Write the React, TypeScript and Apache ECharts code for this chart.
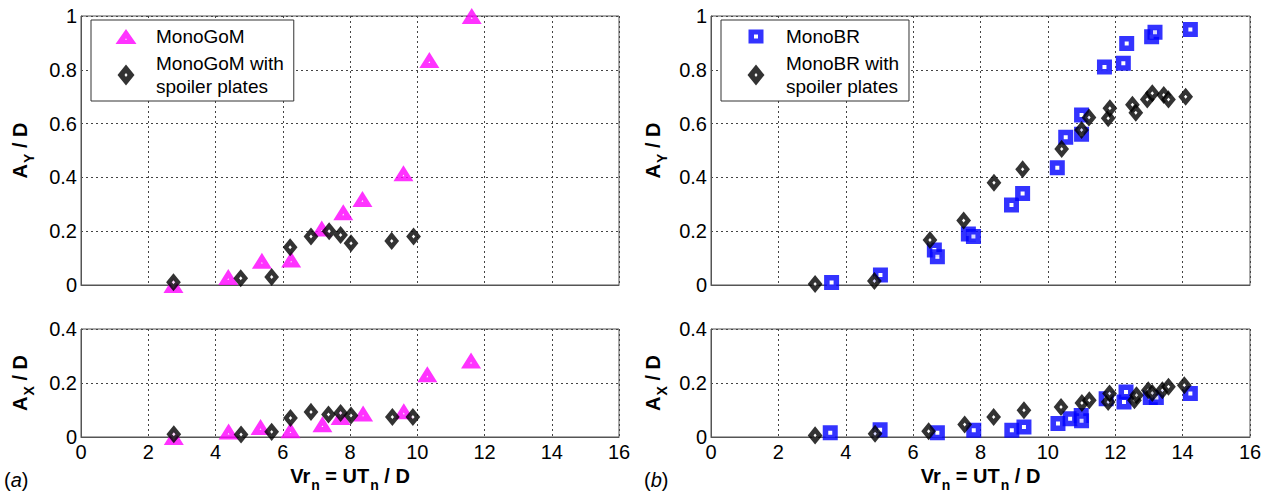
import React, { useEffect, useRef } from "react";
import * as echarts from "echarts";

// ---- data (x = Vr_n, y = amplitude / D) ----
const monoGoMAy: [number, number][] = [
  [2.75, 0.0], [4.38, 0.03], [5.38, 0.09], [6.25, 0.095], [7.16, 0.21],
  [7.8, 0.27], [8.37, 0.32], [9.59, 0.415], [10.36, 0.836], [11.62, 1.0],
];
const monoGoMSpoilerAy: [number, number][] = [
  [2.75, 0.01], [4.75, 0.025], [5.67, 0.03], [6.22, 0.14], [6.84, 0.18],
  [7.38, 0.2], [7.72, 0.186], [8.03, 0.155], [9.24, 0.164], [9.89, 0.18],
];
const monoGoMAx: [number, number][] = [
  [2.76, 0.0], [4.39, 0.02], [5.34, 0.037], [6.23, 0.025], [7.18, 0.047],
  [7.72, 0.074], [8.39, 0.087], [9.6, 0.095], [10.3, 0.232], [11.6, 0.283],
];
const monoGoMSpoilerAx: [number, number][] = [
  [2.76, 0.01], [4.76, 0.009], [5.67, 0.019], [6.23, 0.07], [6.84, 0.093],
  [7.36, 0.083], [7.72, 0.089], [8.03, 0.08], [9.26, 0.074], [9.87, 0.074],
];
const monoBRAy: [number, number][] = [
  [3.58, 0.009], [5.03, 0.037], [6.63, 0.13], [6.72, 0.105], [7.64, 0.19],
  [7.79, 0.18], [8.92, 0.297], [9.25, 0.34], [10.28, 0.436], [10.53, 0.549],
  [11.0, 0.632], [11.0, 0.56], [11.68, 0.81], [12.24, 0.824], [12.34, 0.898],
  [13.08, 0.923], [13.18, 0.94], [14.23, 0.95],
];
const monoBRSpoilerAy: [number, number][] = [
  [3.09, 0.004], [4.85, 0.015], [6.5, 0.167], [7.5, 0.24], [8.4, 0.38],
  [9.25, 0.43], [10.41, 0.506], [11.0, 0.576], [11.22, 0.623], [11.79, 0.62],
  [11.84, 0.657], [12.51, 0.67], [12.61, 0.64], [12.95, 0.69], [13.1, 0.713],
  [13.44, 0.706], [13.58, 0.69], [14.09, 0.7],
];
const monoBRAx: [number, number][] = [
  [3.54, 0.016], [5.02, 0.027], [6.72, 0.016], [7.8, 0.025], [8.93, 0.025],
  [9.29, 0.037], [10.3, 0.05], [10.66, 0.068], [10.99, 0.08], [11.0, 0.06],
  [11.73, 0.142], [12.26, 0.13], [12.32, 0.167], [13.04, 0.146], [13.22, 0.146],
  [14.23, 0.161],
];
const monoBRSpoilerAx: [number, number][] = [
  [3.09, 0.006], [4.87, 0.012], [6.46, 0.021], [7.53, 0.046], [8.39, 0.074],
  [9.29, 0.099], [10.39, 0.111], [11.01, 0.126], [11.23, 0.136], [11.79, 0.13],
  [11.83, 0.161], [12.57, 0.136], [12.63, 0.155], [12.98, 0.173], [13.1, 0.163],
  [13.4, 0.173], [13.58, 0.186], [14.05, 0.192],
];

const nameGoM = "MonoGoM";
const nameGoMSp = "MonoGoM with\nspoiler plates";
const nameBR = "MonoBR";
const nameBRSp = "MonoBR with\nspoiler plates";

const FONT = "'Liberation Sans', Arial, Helvetica, sans-serif";

const rich = {
  a: { fontSize: 20, fontWeight: "bold", fontFamily: FONT, color: "#000", verticalAlign: "top" },
  s: { fontSize: 14, fontWeight: "bold", fontFamily: FONT, color: "#000", verticalAlign: "top", padding: [12, 0, 0, 1] },
};

const splitLine = { show: true, lineStyle: { color: "#444", type: [2, 3], width: 1 } };

function xAxis(gridIndex: number, labels: boolean) {
  return {
    type: "value", gridIndex, min: 0, max: 16, interval: 2,
    axisLine: { show: true, lineStyle: { color: "#555", width: 1 } },
    axisTick: { show: false },
    axisLabel: { show: labels, color: "#000", fontSize: 20, fontFamily: FONT, margin: 5 },
    splitLine,
    name: labels ? "{a|Vr}{s|n}{a| = UT}{s|n}{a| / D}" : "",
    nameLocation: "middle", nameGap: 29, nameMoveOverlap: false,
    nameTextStyle: { rich },
  };
}

function yAxis(gridIndex: number, max: number, sub: string, gap: number) {
  return {
    type: "value", gridIndex, min: 0, max, interval: 0.2,
    axisLine: { show: true, lineStyle: { color: "#555", width: 1 } },
    axisTick: { show: false },
    axisLabel: { color: "#000", fontSize: 20, fontFamily: FONT, margin: 4 },
    splitLine,
    name: `{a|A}{s|${sub}}{a| / D}`,
    nameLocation: "middle", nameRotate: 90, nameGap: gap, nameMoveOverlap: false,
    nameTextStyle: { rich },
  };
}

// filled triangle with a tiny white dot (reverse-wound hole)
const triSymbol = "path://M10,0L20,16L0,16Z M10,9.2L9.1,10.8L10.9,10.8Z";
const triStyle = { symbol: triSymbol, symbolSize: [20, 16], itemStyle: { color: "#ff00ff" } };
const diaStyle = { symbol: "diamond", symbolSize: [9, 11], itemStyle: { color: "#fff", borderColor: "#000", borderWidth: 4.5 } };
const sqStyle = { symbol: "rect", symbolSize: 9.5, itemStyle: { color: "#fff", borderColor: "#0000ff", borderWidth: 5.5 } };

// legend icons: 22x21 boxes (M0,0 / M22,21 fix the bounding box), holes by reverse winding
const iconTri = "path://M0,0M22,21M11,3L21.5,18L0.5,18Z M11,12.2L10.1,13.8L11.9,13.8Z";
const iconDia = "path://M0,0M22,21M11,0L19.5,10.5L11,21L2.5,10.5Z M11,8.5L9.5,10.5L11,12.5L12.5,10.5Z";
const iconSq = "path://M0,0M22,21M3.5,3.5L18.5,3.5L18.5,17.5L3.5,17.5Z M9,8.5L9,12.5L13,12.5L13,8.5Z";

function legend(left: number, top: number, data: any[]) {
  return {
    left, top, orient: "vertical", data,
    borderColor: "#333", borderWidth: 1, backgroundColor: "#fff",
    padding: [5, 10, 3, 24], itemGap: 4, itemWidth: 50, itemHeight: 21,
    textStyle: { fontSize: 19, lineHeight: 23, color: "#000", fontFamily: FONT },
    selectedMode: false,
  };
}

export default function App() {
  const ref = useRef<HTMLDivElement>(null);
  useEffect(() => {
    if (!ref.current) return;
    const chart = echarts.init(ref.current, undefined, { renderer: "svg" });
    const grids = [
      { left: 81, right: 651, top: 16, height: 269 },
      { left: 711, right: 20, top: 16, height: 269 },
      { left: 81, right: 651, top: 329, height: 108 },
      { left: 711, right: 20, top: 329, height: 108 },
    ].map((g) => ({ ...g, show: true, borderColor: "#555", borderWidth: 1, containLabel: false }));
    const sc = (name: string, data: [number, number][], idx: number, style: any, z: number) => ({
      type: "scatter", name, data, xAxisIndex: idx, yAxisIndex: idx, z, ...style,
    });
    const li = (name: string, icon: string, color: string) => ({
      name, icon, itemStyle: { color, borderWidth: 0 },
    });
    chart.setOption({
      animation: false,
      textStyle: { fontFamily: FONT },
      grid: grids,
      xAxis: [xAxis(0, false), xAxis(1, false), xAxis(2, true), xAxis(3, true)],
      yAxis: [yAxis(0, 1, "Y", 45), yAxis(1, 1, "Y", 42), yAxis(2, 0.4, "X", 45), yAxis(3, 0.4, "X", 42)],
      legend: [
        legend(91, 20, [li(nameGoM, iconTri, "#ff00ff"), li(nameGoMSp, iconDia, "#000")]),
        legend(721, 20, [li(nameBR, iconSq, "#0000ff"), li(nameBRSp, iconDia, "#000")]),
      ],
      series: [
        sc(nameGoM, monoGoMAy, 0, triStyle, 2),
        sc(nameGoMSp, monoGoMSpoilerAy, 0, diaStyle, 3),
        sc(nameBR, monoBRAy, 1, sqStyle, 2),
        sc(nameBRSp, monoBRSpoilerAy, 1, diaStyle, 3),
        sc(nameGoM, monoGoMAx, 2, triStyle, 2),
        sc(nameGoMSp, monoGoMSpoilerAx, 2, diaStyle, 3),
        sc(nameBR, monoBRAx, 3, sqStyle, 2),
        sc(nameBRSp, monoBRSpoilerAx, 3, diaStyle, 3),
      ],
      graphic: [
        { type: "text", left: 4, top: 470, style: { text: "({i|a})", fontSize: 20, fontFamily: FONT, fill: "#000", rich: { i: { fontStyle: "italic", fontSize: 20, fontFamily: FONT } } } },
        { type: "text", left: 644, top: 470, style: { text: "({i|b})", fontSize: 20, fontFamily: FONT, fill: "#000", rich: { i: { fontStyle: "italic", fontSize: 20, fontFamily: FONT } } } },
      ],
    });
    return () => chart.dispose();
  }, []);
  return <div ref={ref} style={{ position: "absolute", left: 0, top: 0, width: 1270, height: 495 }} />;
}
